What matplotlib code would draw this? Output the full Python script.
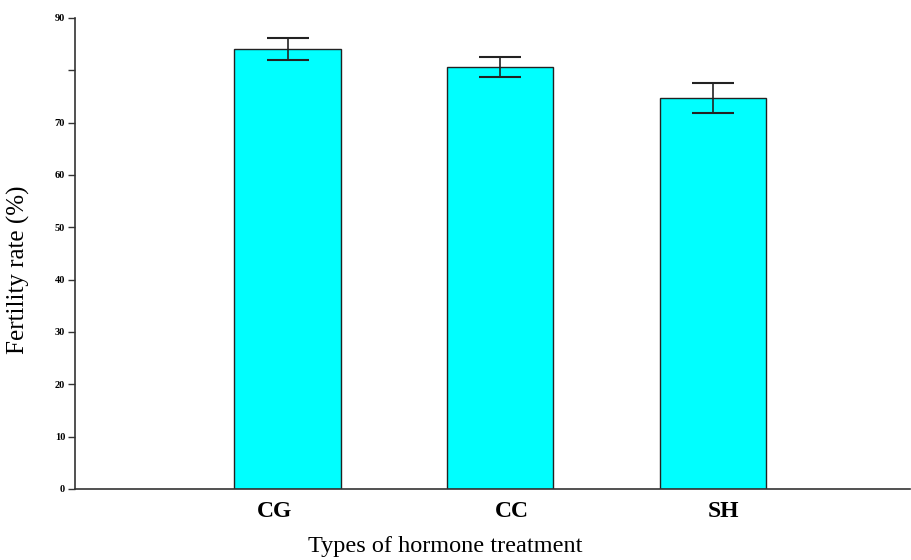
import matplotlib
matplotlib.use('Agg')
import matplotlib.pyplot as plt
import numpy as np

# ── data ──
treatments = ['CG', 'CC', 'SH']
fertility = [84.1, 80.6, 74.7]
fertility_err = [2.1, 1.9, 2.9]
ytick_vals = [0, 10, 20, 30, 40, 50, 60, 70, 80, 90]
ytick_labels = ['0', '10', '20', '30', '40', '50', '60', '70', '', '90']

plt.rcParams.update({'font.family': ['Liberation Serif', 'DejaVu Serif']})

fig = plt.figure(figsize=(9.12, 5.6), dpi=100)
ax = fig.add_axes([0.0822, 0.127, 0.916, 0.841])

x = np.arange(len(treatments))
ax.bar(x, fertility, width=0.5, color='#00ffff', edgecolor='#222222', linewidth=1.0)
ax.errorbar(x, fertility, yerr=fertility_err, fmt='none', ecolor='#222222',
            elinewidth=1.2, capsize=15, capthick=1.5)

ax.set_xlim(-1.0, 2.93)
ax.set_ylim(0, 90)
# category labels sit slightly off the bar centres in the original
ax.set_xticks(x + np.array([-0.06, 0.055, 0.05]))
ax.set_xticklabels(treatments, fontsize=17, fontweight='bold')
ax.tick_params(axis='x', length=0, pad=9)
ax.set_yticks(ytick_vals)
ax.set_yticklabels(ytick_labels, fontsize=7.5, fontweight='bold')
ax.tick_params(axis='y', length=5, width=1, pad=2, color='#333333')

for side in ['top', 'right']:
    ax.spines[side].set_visible(False)
for side in ['left', 'bottom']:
    ax.spines[side].set_linewidth(1.2)
    ax.spines[side].set_color('#333333')

ax.set_xlabel('Types of hormone treatment', fontsize=17.5)
ax.xaxis.set_label_coords(0.443, -0.100)
ax.set_ylabel('Fertility rate (%)', fontsize=18)
ax.yaxis.set_label_coords(-0.054, 0.465)

fig.savefig('out.png', dpi=100, facecolor='white')
